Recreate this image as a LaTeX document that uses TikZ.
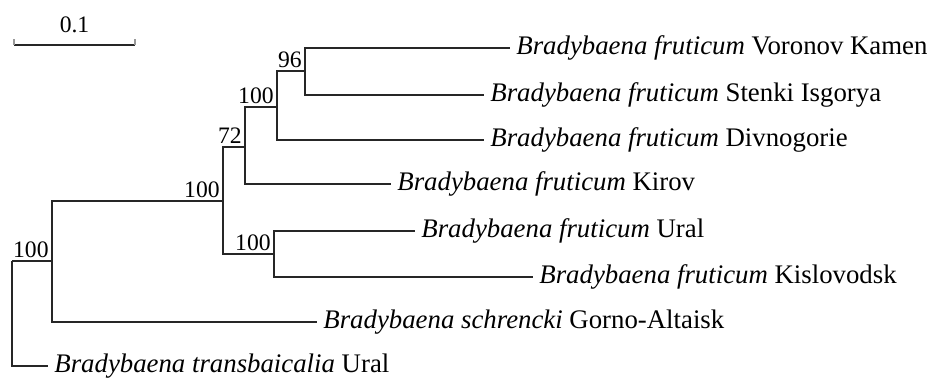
\documentclass[tikz,border=0pt]{standalone}
\usepackage{fontspec}
\setmainfont{Liberation Serif}
\begin{document}
\begin{tikzpicture}
            [x=0.5pt, y=-0.5pt,
             branch/.style = {draw=black!85, line width=0.6pt},
             leaf/.style = {anchor=west, inner sep=3pt, font=\fontsize{13.4}{15}\selectfont},
             boot/.style = {anchor=south east, inner sep=1.5pt, font=\fontsize{11.8}{13}\selectfont}]
            \useasboundingbox (0,0) rectangle (927,377);
            % scale bar
            \coordinate (s1) at (14,45);
            \coordinate (s2) at (135,45);
            \draw[branch] (s1) -- (s2);
            \draw[branch, draw=black!40] (s1) -- ++(0,-6);
            \draw[branch, draw=black!40] (s2) -- ++(0,-6);
            \node[boot, anchor=south] (scale) at (74.5,36) {0.1};
            % internal nodes
            \coordinate (root) at (12,261);
            \coordinate (n1) at (52,261);
            \coordinate (n2) at (223,201);
            \coordinate (n3) at (245,147);
            \coordinate (n4) at (277,107);
            \coordinate (n5) at (305,71);
            \coordinate (n6) at (274,254);
            % support values
            \node[boot] (b1) at (n1) {100};
            \node[boot] (b2) at (n2) {100};
            \node[boot] (b3) at (n3) {72};
            \node[boot] (b4) at (n4) {100};
            \node[boot] (b5) at (n5) {96};
            \node[boot] (b6) at (n6) {100};
            % leaves
            \node[leaf] (vk) at (510,48) {\textit{Bradybaena fruticum} Voronov Kamen};
            \node[leaf] (si) at (484,95) {\textit{Bradybaena fruticum} Stenki Isgorya};
            \node[leaf] (dv) at (484,140) {\textit{Bradybaena fruticum} Divnogorie};
            \node[leaf] (ki) at (391,184) {\textit{Bradybaena fruticum} Kirov};
            \node[leaf] (ur) at (415,231) {\textit{Bradybaena fruticum} Ural};
            \node[leaf] (ks) at (533,277) {\textit{Bradybaena fruticum} Kislovodsk};
            \node[leaf] (sc) at (317,322) {\textit{Bradybaena schrencki} Gorno-Altaisk};
            \node[leaf] (tb) at (48,366) {\textit{Bradybaena transbaicalia} Ural};
            % branches
            \draw[branch] (root) |- (n1);
            \draw[branch] (root) |- (tb.west);
            \draw[branch] (n1) |- (n2);
            \draw[branch] (n1) |- (sc.west);
            \draw[branch] (n2) |- (n3);
            \draw[branch] (n2) |- (n6);
            \draw[branch] (n3) |- (n4);
            \draw[branch] (n3) |- (ki.west);
            \draw[branch] (n4) |- (n5);
            \draw[branch] (n4) |- (dv.west);
            \draw[branch] (n5) |- (vk.west);
            \draw[branch] (n5) |- (si.west);
            \draw[branch] (n6) |- (ur.west);
            \draw[branch] (n6) |- (ks.west);
        \end{tikzpicture}
\end{document}
